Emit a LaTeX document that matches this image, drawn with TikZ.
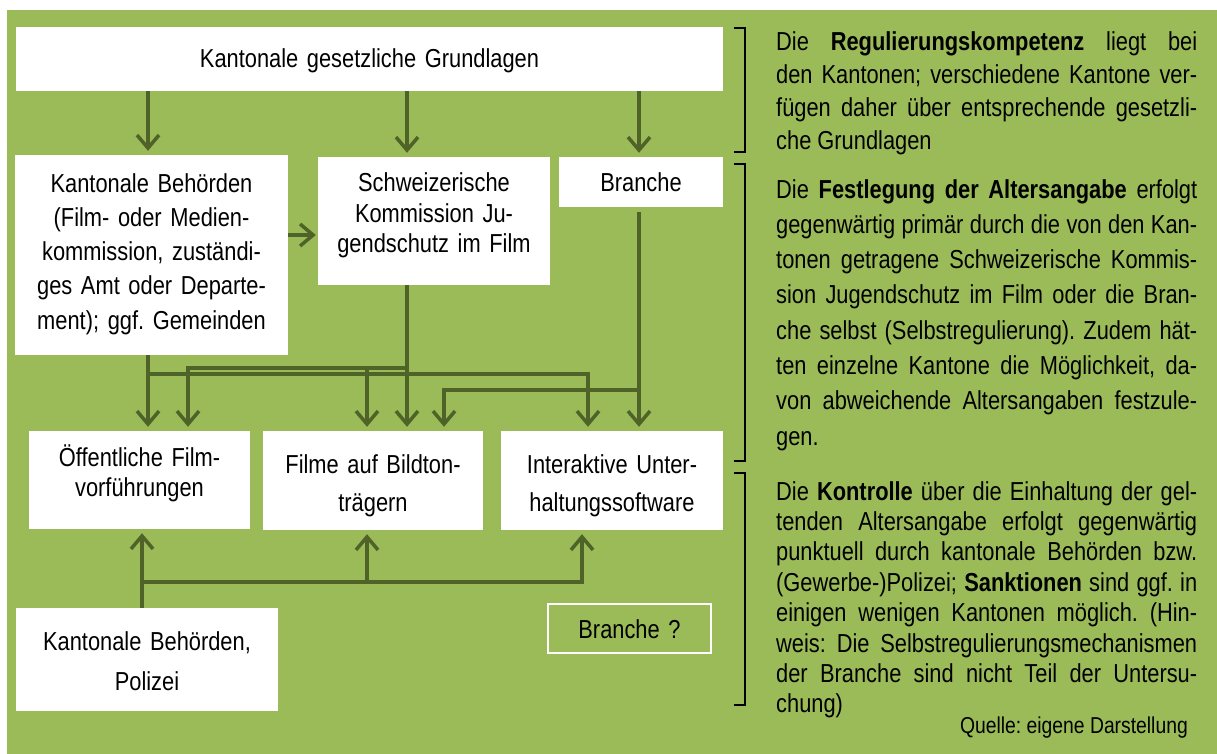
\documentclass[tikz,border=0pt]{standalone}
\usepackage{fontspec}
\setmainfont{Liberation Sans}[FakeStretch=0.84]
\usetikzlibrary{arrows.meta}
\definecolor{bg}{HTML}{9BBB59}
\definecolor{arrowc}{HTML}{4F6228}
\newcommand\jline[1]{\makebox[421pt][s]{\spaceskip=0pt\xspaceskip=0pt #1}}
\frenchspacing
\begin{document}
\begin{tikzpicture}[x=1pt,y=-1pt,
  box/.style={fill=white, draw=none, inner sep=0pt},
  txt/.style={text width=#1, align=center, anchor=base, inner sep=0pt},
  para/.style={text width=421pt, align=justify, anchor=base west, inner sep=0pt},
  conn/.style={draw=arrowc, line width=3.5pt},
  arr/.style={conn, -{Straight Barb[length=13pt,width=22pt]}, shorten >=4pt},
  brk/.style={draw=black, line width=2.5pt}]
\useasboundingbox (0,0) rectangle (1217,754);
\fill[white] (0,0) rectangle (1217,754);
\fill[bg] (7,10) rectangle (1217,754);

% boxes
\node[box, minimum width=707pt, minimum height=64pt] (top) at (369.5,59) {};
\node[box, minimum width=273pt, minimum height=200pt] (kb) at (151.5,255) {};
\node[box, minimum width=232pt, minimum height=128pt] (sk) at (434,221) {};
\node[box, minimum width=164pt, minimum height=50pt] (br) at (641,182) {};
\node[box, minimum width=221pt, minimum height=98pt] (of) at (139.5,480) {};
\node[box, minimum width=220pt, minimum height=99pt] (fb) at (373,480.5) {};
\node[box, minimum width=222pt, minimum height=99pt] (iu) at (612,480.5) {};
\node[box, minimum width=262pt, minimum height=103pt] (kp) at (147,659.5) {};
\node[draw=white, line width=2pt, inner sep=0pt, minimum width=163pt, minimum height=49pt] (bq) at (629.5,628.5) {};

% box texts
\node[txt=700pt, font=\fontsize{26pt}{34pt}\selectfont] (ttop) at (369.5,68) {Kantonale gesetzliche Grundlagen};
\node[txt=270pt, font=\fontsize{26pt}{34pt}\selectfont] (tkb) at (151.5,193) {Kantonale Behörden\\(Film- oder Medien-\\kommission, zuständi-\\ges Amt oder Departe-\\ment); ggf. Gemeinden};
\node[txt=230pt, font=\fontsize{26pt}{30.5pt}\selectfont] (tsk) at (434,192) {Schweizerische\\Kommission Ju-\\gendschutz im Film};
\node[txt=160pt, font=\fontsize{26pt}{30pt}\selectfont] (tbr) at (641,191) {Branche};
\node[txt=220pt, font=\fontsize{26pt}{30pt}\selectfont] (tof) at (139.5,466) {Öffentliche Film-\\vorführungen};
\node[txt=220pt, font=\fontsize{26pt}{38pt}\selectfont] (tfb) at (373,473) {Filme auf Bildton-\\trägern};
\node[txt=220pt, font=\fontsize{26pt}{38pt}\selectfont] (tiu) at (612,473) {Interaktive Unter-\\haltungssoftware};
\node[txt=260pt, font=\fontsize{26pt}{40pt}\selectfont] (tkp) at (147,650) {Kantonale Behörden,\\Polizei};
\node[txt=160pt, font=\fontsize{26pt}{30pt}\selectfont] (tbq) at (629.5,638) {Branche ?};

% connectors from top box
\draw[arr] (148,0 |- top.south) -- (148,0 |- kb.north);
\draw[arr] (407,0 |- top.south) -- (407,0 |- sk.north);
\draw[arr] (639,0 |- top.south) -- (639,0 |- br.north);
\draw[arr, shorten >=2pt] (kb.east |- 0,235) -- (sk.west |- 0,235);

% junctions
\coordinate (jk) at (148,374);
\coordinate (js) at (407,368);
\coordinate (jb) at (639,390);
\coordinate (jp) at (142,582);

% Kantonale Behoerden
\draw[arr] (148,0 |- kb.south) -- (148,0 |- of.north);
\draw[arr] (jk) -| (588,0 |- iu.north);
% Schweizerische Kommission
\draw[arr] (407,0 |- sk.south) -- (407,0 |- fb.north);
\draw[arr] (js) -| (188,0 |- of.north);
\draw[arr] (367,368) -- (367,0 |- fb.north);
% Branche
\draw[arr] ([yshift=-5pt]639,0 |- br.south) -- (639,0 |- iu.north);
\draw[arr] (jb) -| (444,0 |- fb.north);
% Kontrolle
\draw[arr] (142,0 |- kp.north) -- (142,0 |- of.south);
\draw[arr] (jp) -| (367,0 |- fb.south);
\draw[arr] (jp) -| (582,0 |- iu.south);

% brackets
\draw[brk] (734,28) -- (745,28) -- (745,152) -- (734,152);
\draw[brk] (734,164) -- (745,164) -- (745,461) -- (734,461);
\draw[brk] (734,473) -- (745,473) -- (745,705) -- (734,705);

% paragraphs
\node[para, font=\fontsize{26pt}{33pt}\selectfont] (p1) at (776,51) {%
\jline{Die \textbf{Regulierungskompetenz} liegt bei}\\
\jline{den Kantonen; verschiedene Kantone ver-}\\
\jline{fügen daher über entsprechende gesetzli-}\\
che Grundlagen};
\node[para, font=\fontsize{26pt}{35.3pt}\selectfont] (p2) at (776,198) {%
\jline{Die \textbf{Festlegung der Altersangabe} erfolgt}\\
\jline{gegenwärtig primär durch die von den Kan-}\\
\jline{tonen getragene Schweizerische Kommis-}\\
\jline{sion Jugendschutz im Film oder die Bran-}\\
\jline{che selbst (Selbstregulierung). Zudem hät-}\\
\jline{ten einzelne Kantone die Möglichkeit, da-}\\
\jline{von abweichende Altersangaben festzule-}\\
gen.};
\node[para, font=\fontsize{26pt}{30.4pt}\selectfont] (p3) at (776,500) {%
\jline{Die \textbf{Kontrolle} über die Einhaltung der gel-}\\
\jline{tenden Altersangabe erfolgt gegenwärtig}\\
\jline{punktuell durch kantonale Behörden bzw.}\\
\jline{(Gewerbe-)Polizei; \textbf{Sanktionen} sind ggf. in}\\
\jline{einigen wenigen Kantonen möglich. (Hin-}\\
\jline{weis: Die Selbstregulierungsmechanismen}\\
\jline{der Branche sind nicht Teil der Untersu-}\\
chung)};
\node[anchor=base east, inner sep=0pt, font=\fontsize{23pt}{26pt}\selectfont] (src) at (1188,733) {Quelle: eigene Darstellung};
\end{tikzpicture}
\end{document}
